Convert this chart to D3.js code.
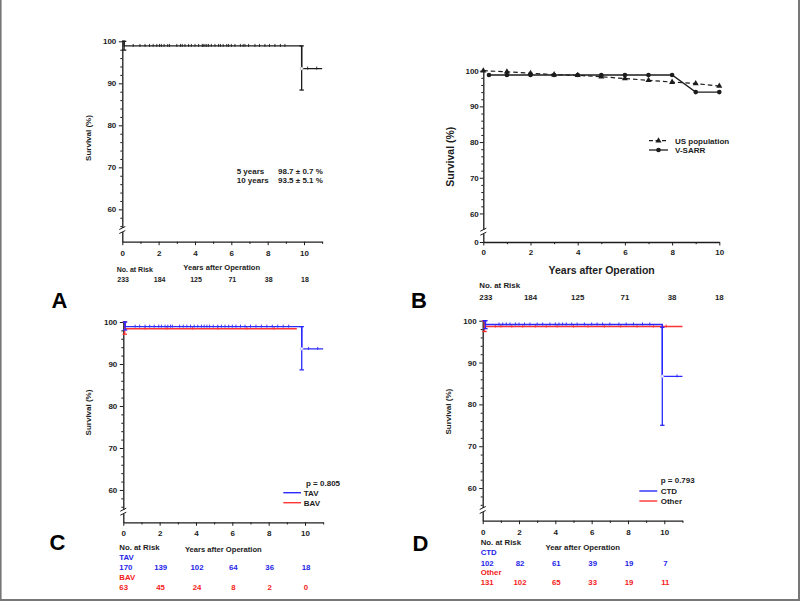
<!DOCTYPE html>
<html><head><meta charset="utf-8">
<script src="https://cdn.jsdelivr.net/npm/d3@7"></script>
<style>
body{margin:0;background:#fff}
svg{display:block}
text{font-family:"Liberation Sans",Arial,Helvetica,sans-serif;font-weight:bold}
</style>
</head><body>
<svg id="c" width="800" height="601"></svg>
<script>
// ---------------- DATA ----------------
const yearTicks = [0, 2, 4, 6, 8, 10];
const minorYearTicks = [1, 3, 5, 7, 9, 11];
const survTicks = [60, 70, 80, 90, 100];
const minorSurvTicks = [56, 58, 62, 64, 66, 68, 72, 74, 76, 78, 82, 84, 86, 88, 92, 94, 96, 98];
const riskYears = [0, 2, 4, 6, 8, 10];

// Panel A – overall Kaplan-Meier
const aTimes = [0, 0.1, 9.87, 11];
const aSurv = [100, 98.9, 93.5, 93.5];
const aErrTimes = [0.1, 9.87];
const aErrLow = [97.9, 88.4];
const aErrHigh = [100, 98.9];
const aCensor = [0.6, 0.97, 1.25, 1.5, 1.7, 1.9, 2.05, 2.15, 2.3, 2.5, 2.6, 3.0, 3.2, 3.3, 3.45, 3.65, 3.8, 4.0, 4.2, 4.4, 4.45, 4.55, 4.65, 4.75, 4.9, 5.1, 5.3, 5.4, 5.55, 5.75, 5.85, 6.0, 6.2, 6.5, 6.65, 6.75, 6.95, 7.3, 7.55, 7.85, 8.1, 8.4, 8.7, 8.95, 10.2, 10.7];
const aRisk = [233, 184, 125, 71, 38, 18];
const aStatLabels = ["5 years", "10 years"];
const aStatValues = ["98.7 ± 0.7 %", "93.5 ± 5.1 %"];

// Panel B – V-SARR vs US population
const bYTicks = [0, 60, 70, 80, 90, 100];
const bUsYears = [0, 1, 2, 3, 4, 5, 6, 7, 8, 9, 10];
const bUsSurv = [100, 99.7, 99.3, 98.9, 98.7, 98.3, 97.8, 97.3, 96.8, 96.4, 95.7];
const bVsYears = [0.24, 1, 2, 3, 4, 5, 6, 7, 8, 9, 10];
const bVsSurv = [98.8, 98.8, 98.8, 98.8, 98.8, 98.8, 98.8, 98.8, 98.8, 94.0, 94.0];
const bRisk = [233, 184, 125, 71, 38, 18];
const bSeriesNames = ["US population", "V-SARR"];

// Panel C – TAV vs BAV
const cTavTimes = [0, 0.1, 9.82, 11];
const cTavSurv = [100, 98.9, 93.6, 93.6];
const cTavErrTimes = [0.1, 9.82];
const cTavErrLow = [98.1, 88.6];
const cTavErrHigh = [100, 98.9];
const cTavCensor = [0.65, 0.9, 1.2, 1.45, 1.7, 1.95, 2.1, 2.3, 2.45, 2.6, 2.7, 3.1, 3.3, 3.5, 3.7, 3.9, 4.1, 4.3, 4.45, 4.6, 4.75, 4.95, 5.2, 5.4, 5.6, 5.8, 6.0, 6.2, 6.45, 6.7, 7.0, 7.3, 7.6, 7.9, 8.2, 8.5, 8.8, 9.1, 10.2, 10.7];
const cBavTimes = [0, 0.08, 9.55];
const cBavSurv = [100, 98.4, 98.4];
const cBavErrTimes = [0.08];
const cBavErrLow = [97.1];
const cBavErrHigh = [100];
const cBavCensor = [1.2, 2.4, 3.8, 5.2, 6.8, 8.3];
const cTavRisk = [170, 139, 102, 64, 36, 18];
const cBavRisk = [63, 45, 24, 8, 2, 0];
const cGroups = ["TAV", "BAV"];
const cP = "p = 0.805";

// Panel D – CTD vs Other
const dCtdTimes = [0, 0.15, 9.89, 11];
const dCtdSurv = [100, 99.1, 86.7, 86.7];
const dCtdErrTimes = [0.15, 9.89];
const dCtdErrLow = [98.1, 75.0];
const dCtdErrHigh = [100, 98.4];
const dCtdCensor = [0.9, 1.1, 1.3, 1.5, 1.8, 2.0, 2.3, 2.6, 3.0, 3.3, 3.7, 4.0, 4.2, 4.4, 4.6, 4.9, 5.2, 5.6, 6.0, 6.3, 6.6, 7.0, 7.5, 7.9, 8.3, 8.8, 9.2, 10.7];
const dOthTimes = [0, 0.1, 11];
const dOthSurv = [100, 98.6, 98.6];
const dOthErrTimes = [0.1];
const dOthErrLow = [97.4];
const dOthErrHigh = [100];
const dOthCensor = [0.7, 1.0, 1.6, 2.2, 2.9, 3.5, 4.1, 5.0, 5.8, 6.7, 7.6, 8.5, 9.4, 10.1];
const dCtdRisk = [102, 82, 61, 39, 19, 7];
const dOthRisk = [131, 102, 65, 33, 19, 11];
const dGroups = ["CTD", "Other"];
const dP = "p = 0.793";

// ---------------- DRAWING ----------------
const svg = d3.select("#c");
const INK = "#1c1c1c";
const BLUE = "#2a2aff";
const RED = "#ff3333";
const TBLUE = "#1e1ee8";
const TRED = "#f42020";

// frame
svg.append("line").attr("x1", 0.8).attr("x2", 0.8).attr("y1", 0).attr("y2", 601).attr("stroke", "#777").attr("stroke-width", 1.6);
svg.append("line").attr("x1", 799).attr("x2", 799).attr("y1", 0).attr("y2", 601).attr("stroke", "#777").attr("stroke-width", 2);
svg.append("line").attr("x1", 0).attr("x2", 800).attr("y1", 600).attr("y2", 600).attr("stroke", "#777").attr("stroke-width", 2);

function styleAxis(sel, fs) {
  sel.select(".domain").attr("stroke", INK).attr("stroke-width", 1.3);
  sel.selectAll(".tick line").attr("stroke", INK).attr("stroke-width", 1);
  sel.selectAll(".tick text").attr("fill", INK).attr("font-size", fs).attr("font-weight", "bold")
    .attr("font-family", '"Liberation Sans",Arial,sans-serif');
}

function makeAxes(P) {
  const g = svg.append("g");
  const x = d3.scaleLinear().domain([0, P.xMax]).range([P.x0, P.x0 + P.xMax * P.ppy]);
  const y = d3.scaleLinear().domain(P.yDomain).range(P.yRange);
  const axisY = P.yRange[0];
  const xa = g.append("g").attr("transform", `translate(0,${axisY})`)
    .call(d3.axisBottom(x).tickValues(yearTicks).tickSize(3.5).tickSizeOuter(0).tickPadding(P.xPad).tickFormat(d3.format("d")));
  styleAxis(xa, 8);
  const xm = g.append("g").attr("transform", `translate(0,${axisY})`)
    .call(d3.axisBottom(x).tickValues(minorYearTicks.filter(v => v <= P.xMax)).tickSize(2.2).tickSizeOuter(0).tickFormat(""));
  xm.select(".domain").remove();
  xm.selectAll(".tick line").attr("stroke", INK);
  const ya = g.append("g").attr("transform", `translate(${P.x0},0)`)
    .call(d3.axisLeft(y).tickValues(P.yTicks).tickSize(3.5).tickSizeOuter(0).tickPadding(P.yPad).tickFormat(d3.format("d")));
  styleAxis(ya, 8);
  const ym = g.append("g").attr("transform", `translate(${P.x0},0)`)
    .call(d3.axisLeft(y).tickValues(P.yMinor).tickSize(2).tickSizeOuter(0).tickFormat(""));
  ym.select(".domain").remove();
  ym.selectAll(".tick line").attr("stroke", INK);
  // axis break
  const by = P.breakY;
  g.append("rect").attr("x", P.x0 - 3).attr("y", by - 2).attr("width", 6).attr("height", 4).attr("fill", "#fff");
  g.append("line").attr("x1", P.x0 - 3).attr("y1", by - 0.5).attr("x2", P.x0 + 3).attr("y2", by - 3.5).attr("stroke", INK).attr("stroke-width", 1);
  g.append("line").attr("x1", P.x0 - 3).attr("y1", by + 3.5).attr("x2", P.x0 + 3).attr("y2", by + 0.5).attr("stroke", INK).attr("stroke-width", 1);
  // y label
  g.append("text").attr("transform", `translate(${P.ylx},${P.yly}) rotate(-90)`)
    .attr("text-anchor", "middle").attr("font-size", P.ylfs).attr("fill", INK).text("Survival (%)");
  // x label
  g.append("text").attr("x", P.xlx).attr("y", P.xly).attr("text-anchor", "middle")
    .attr("font-size", P.xlfs).attr("fill", INK).text(P.xlabel);
  // panel letter
  g.append("text").attr("x", P.lx).attr("y", P.ly).attr("text-anchor", "middle")
    .attr("font-size", 22).attr("fill", "#000").text(P.letter);
  return {g, x, y};
}

function drawKM(A, times, surv, errT, errLo, errHi, censor, color) {
  const {g, x, y} = A;
  const pts = times.map((t, i) => [t, surv[i]]);
  g.append("path").datum(pts)
    .attr("d", d3.line().x(d => x(d[0])).y(d => y(d[1])).curve(d3.curveStepAfter))
    .attr("fill", "none").attr("stroke", color).attr("stroke-width", 1.4);
  errT.forEach((t, i) => {
    const xx = x(t);
    g.append("line").attr("x1", xx).attr("x2", xx).attr("y1", y(errLo[i])).attr("y2", y(errHi[i]))
      .attr("stroke", color).attr("stroke-width", 1.3);
    [errLo[i], errHi[i]].forEach(v => {
      g.append("line").attr("x1", xx - 2.2).attr("x2", xx + 2.2).attr("y1", y(v)).attr("y2", y(v))
        .attr("stroke", color).attr("stroke-width", 1.3);
    });
  });
  const bis = d3.bisector(d => d).right;
  censor.forEach(t => {
    const k = Math.max(0, bis(times, t) - 1);
    const yy = y(surv[k]);
    g.append("line").attr("x1", x(t)).attr("x2", x(t)).attr("y1", yy - 2).attr("y2", yy + 1)
      .attr("stroke", color).attr("stroke-width", 0.9);
  });
}

function riskRow(A, vals, yb, color, firstX, fs) {
  const {g, x} = A;
  vals.forEach((v, i) => {
    const first = i === 0;
    g.append("text").attr("x", first ? firstX : x(riskYears[i]) + 1).attr("y", yb)
      .attr("text-anchor", first ? "start" : "middle").attr("font-size", fs).attr("fill", color).text(v);
  });
}

// ---- Panel A
const PA = makeAxes({x0: 122.3, ppy: 18.17, xMax: 11, yDomain: [52.3, 100], yRange: [241.7, 41.3],
  yTicks: survTicks, yMinor: minorSurvTicks, xPad: 5, yPad: 2.5, breakY: 230,
  ylx: 91, yly: 138, ylfs: 8, xlabel: "Years after Operation", xlx: 221.7, xly: 269.5, xlfs: 7.6,
  letter: "A", lx: 59.5, ly: 308});
drawKM(PA, aTimes, aSurv, aErrTimes, aErrLow, aErrHigh, aCensor, INK);
PA.g.append("circle").attr("cx", PA.x(aErrTimes[1])).attr("cy", PA.y(aSurv[2])).attr("r", 1.5).attr("fill", "#fff").attr("stroke", "#999").attr("stroke-width", 0.6);
aStatLabels.forEach((s, i) => {
  PA.g.append("text").attr("x", 236.7).attr("y", 174 + i * 9.4).attr("font-size", 8).attr("fill", INK).text(s);
  PA.g.append("text").attr("x", 278).attr("y", 174 + i * 9.4).attr("font-size", 8).attr("fill", INK).text(aStatValues[i]);
});
PA.g.append("text").attr("x", 116.7).attr("y", 271.8).attr("font-size", 7).attr("fill", INK).text("No. at Risk");
riskRow(PA, aRisk, 282, INK, 117.3, 7);

// ---- Panel B
const PB = (function () {
  const g = svg.append("g");
  const x = d3.scaleLinear().domain([0, 10]).range([483.3, 719.3]);
  const y = d3.scaleLinear().domain([0, 52, 100]).range([242, 242, 70.7]);
  const xa = g.append("g").attr("transform", "translate(0,242)")
    .call(d3.axisBottom(x).tickValues(yearTicks).tickSize(3.5).tickSizeOuter(0).tickPadding(3.5).tickFormat(d3.format("d")));
  styleAxis(xa, 8);
  const xm = g.append("g").attr("transform", "translate(0,242)")
    .call(d3.axisBottom(x).tickValues(minorYearTicks.filter(v => v <= 10)).tickSize(2.2).tickFormat(""));
  xm.select(".domain").remove(); xm.selectAll(".tick line").attr("stroke", INK);
  const ya = g.append("g").attr("transform", "translate(483.3,0)")
    .call(d3.axisLeft(y).tickValues(bYTicks).tickSize(3.5).tickSizeOuter(0).tickPadding(1).tickFormat(d3.format("d")));
  styleAxis(ya, 8);
  const ym = g.append("g").attr("transform", "translate(483.3,0)")
    .call(d3.axisLeft(y).tickValues(minorSurvTicks.filter(v => v > 60)).tickSize(2).tickFormat(""));
  ym.select(".domain").remove(); ym.selectAll(".tick line").attr("stroke", INK);
  const by = 231.7, x0 = 483.3;
  g.append("rect").attr("x", x0 - 3).attr("y", by - 2).attr("width", 6).attr("height", 4).attr("fill", "#fff");
  g.append("line").attr("x1", x0 - 3).attr("y1", by - 0.5).attr("x2", x0 + 3).attr("y2", by - 3.5).attr("stroke", INK);
  g.append("line").attr("x1", x0 - 3).attr("y1", by + 3.5).attr("x2", x0 + 3).attr("y2", by + 0.5).attr("stroke", INK);
  g.append("text").attr("transform", "translate(453.5,156.7) rotate(-90)").attr("text-anchor", "middle")
    .attr("font-size", 10.5).attr("fill", INK).text("Survival (%)");
  g.append("text").attr("x", 601.7).attr("y", 273.8).attr("text-anchor", "middle").attr("font-size", 10.5).attr("fill", INK).text("Years after Operation");
  g.append("text").attr("x", 419, ).attr("y", 308.3).attr("text-anchor", "middle").attr("font-size", 22).attr("fill", "#000").text("B");
  return {g, x, y};
})();
{
  const {g, x, y} = PB;
  const us = bUsYears.map((t, i) => [t, bUsSurv[i]]);
  const vs = bVsYears.map((t, i) => [t, bVsSurv[i]]);
  const ln = d3.line().x(d => x(d[0])).y(d => y(d[1]));
  g.append("path").datum(us).attr("d", ln).attr("fill", "none").attr("stroke", INK).attr("stroke-width", 1.2).attr("stroke-dasharray", "4.5,3");
  g.append("path").datum(vs).attr("d", ln).attr("fill", "none").attr("stroke", INK).attr("stroke-width", 1.3);
  const tri = d3.symbol().type(d3.symbolTriangle).size(16);
  g.selectAll(".tri").data(us).join("path").attr("transform", d => `translate(${x(d[0])},${y(d[1])})`).attr("d", tri).attr("fill", INK);
  g.selectAll(".cir").data(vs).join("circle").attr("cx", d => x(d[0])).attr("cy", d => y(d[1])).attr("r", 2.3).attr("fill", INK);
  // legend
  const ly = [140.7, 150];
  g.append("line").attr("x1", 649).attr("x2", 668).attr("y1", ly[0]).attr("y2", ly[0]).attr("stroke", INK).attr("stroke-width", 1.2).attr("stroke-dasharray", "4,2.5");
  g.append("path").attr("transform", `translate(658.5,${ly[0]})`).attr("d", tri).attr("fill", INK);
  g.append("line").attr("x1", 649).attr("x2", 668).attr("y1", ly[1]).attr("y2", ly[1]).attr("stroke", INK).attr("stroke-width", 1.3);
  g.append("circle").attr("cx", 658.5).attr("cy", ly[1]).attr("r", 2.3).attr("fill", INK);
  bSeriesNames.forEach((s, i) => g.append("text").attr("x", 675).attr("y", ly[i] + 2.9).attr("font-size", 8).attr("fill", INK).text(s));
  g.append("text").attr("x", 479.3).attr("y", 287.9).attr("font-size", 7.9).attr("fill", INK).text("No. at Risk");
  bRisk.forEach((v, i) => {
    g.append("text").attr("x", i === 0 ? 479.3 : x(riskYears[i])).attr("y", 299.5)
      .attr("text-anchor", i === 0 ? "start" : "middle").attr("font-size", 7.9).attr("fill", INK).text(v);
  });
}

// ---- Panel C
const PC = makeAxes({x0: 123.3, ppy: 18.17, xMax: 11, yDomain: [52.3, 100], yRange: [522.3, 322],
  yTicks: survTicks, yMinor: minorSurvTicks, xPad: 5, yPad: 2.5, breakY: 511.7,
  ylx: 91, yly: 412.5, ylfs: 8, xlabel: "Years after Operation", xlx: 223.3, xly: 551.5, xlfs: 7.6,
  letter: "C", lx: 57.5, ly: 550});
drawKM(PC, cBavTimes, cBavSurv, cBavErrTimes, cBavErrLow, cBavErrHigh, cBavCensor, RED);
drawKM(PC, cTavTimes, cTavSurv, cTavErrTimes, cTavErrLow, cTavErrHigh, cTavCensor, BLUE);
PC.g.append("circle").attr("cx", PC.x(cTavErrTimes[1])).attr("cy", PC.y(cTavSurv[2])).attr("r", 1.5).attr("fill", "#fff").attr("stroke", "#99f").attr("stroke-width", 0.6);
PC.g.append("text").attr("x", 306).attr("y", 485.5).attr("font-size", 8).attr("fill", INK).text(cP);
[BLUE, RED].forEach((c, i) => {
  const yy = 492.7 + i * 10;
  PC.g.append("line").attr("x1", 283.3).attr("x2", 301).attr("y1", yy).attr("y2", yy).attr("stroke", c).attr("stroke-width", 1.4);
  PC.g.append("text").attr("x", 303.8).attr("y", yy + 2.9).attr("font-size", 8).attr("fill", INK).text(cGroups[i]);
});
PC.g.append("text").attr("x", 119.3).attr("y", 549.5).attr("font-size", 7.8).attr("fill", INK).text("No. at Risk");
PC.g.append("text").attr("x", 119.3).attr("y", 559.6).attr("font-size", 7.8).attr("fill", TBLUE).text(cGroups[0]);
riskRow(PC, cTavRisk, 569.6, TBLUE, 119.3, 7.8);
PC.g.append("text").attr("x", 119.3).attr("y", 579.6).attr("font-size", 7.8).attr("fill", TRED).text(cGroups[1]);
riskRow(PC, cBavRisk, 589.6, TRED, 119.3, 7.8);

// ---- Panel D
const PD = makeAxes({x0: 482.7, ppy: 18.16, xMax: 11, yDomain: [52.2, 100], yRange: [520.7, 320.7],
  yTicks: survTicks, yMinor: minorSurvTicks, xPad: 5, yPad: 2.5, breakY: 510,
  ylx: 451, yly: 411.7, ylfs: 8, xlabel: "Year after Operation", xlx: 582.7, xly: 550.2, xlfs: 7.8,
  letter: "D", lx: 420.5, ly: 550.7});
drawKM(PD, dOthTimes, dOthSurv, dOthErrTimes, dOthErrLow, dOthErrHigh, dOthCensor, RED);
drawKM(PD, dCtdTimes, dCtdSurv, dCtdErrTimes, dCtdErrLow, dCtdErrHigh, dCtdCensor, BLUE);
PD.g.append("circle").attr("cx", PD.x(dCtdErrTimes[1])).attr("cy", PD.y(dCtdSurv[2])).attr("r", 1.5).attr("fill", "#fff").attr("stroke", "#99f").attr("stroke-width", 0.6);
PD.g.append("text").attr("x", 660.7).attr("y", 482.9).attr("font-size", 8).attr("fill", INK).text(dP);
[BLUE, RED].forEach((c, i) => {
  const yy = 491 + i * 10;
  PD.g.append("line").attr("x1", 639.3).attr("x2", 657.3).attr("y1", yy).attr("y2", yy).attr("stroke", c).attr("stroke-width", 1.4);
  PD.g.append("text").attr("x", 660.7).attr("y", yy + 2.9).attr("font-size", 8).attr("fill", INK).text(dGroups[i]);
});
PD.g.append("text").attr("x", 480.7).attr("y", 544.9).attr("font-size", 7.8).attr("fill", INK).text("No. at Risk");
PD.g.append("text").attr("x", 480.7).attr("y", 554.9).attr("font-size", 7.8).attr("fill", TBLUE).text(dGroups[0]);
riskRow(PD, dCtdRisk, 565.5, TBLUE, 480.7, 7.8);
PD.g.append("text").attr("x", 480.7).attr("y", 574.9).attr("font-size", 7.8).attr("fill", TRED).text(dGroups[1]);
riskRow(PD, dOthRisk, 584.9, TRED, 480.7, 7.8);
</script>
</body></html>
